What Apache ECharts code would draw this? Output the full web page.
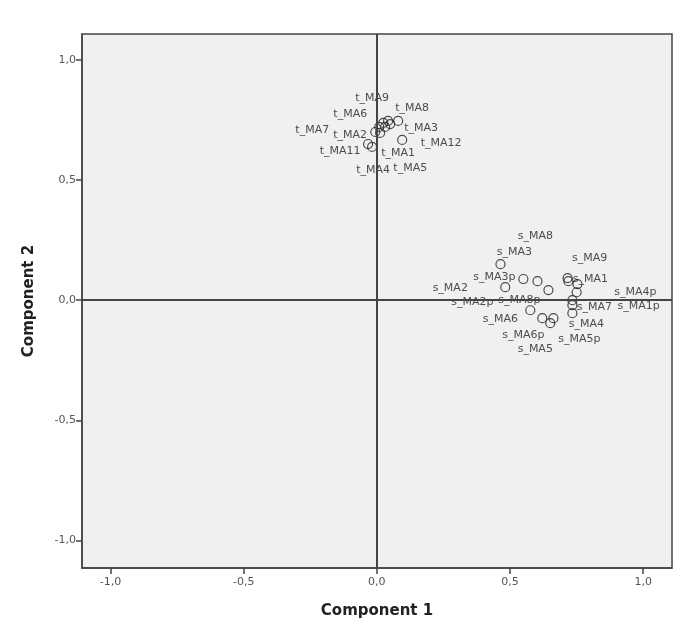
<!DOCTYPE html>
<html>
<head>
<meta charset="utf-8">
<script src="https://cdn.jsdelivr.net/npm/echarts@6/dist/echarts.min.js"></script>
<style>
  html, body { margin: 0; padding: 0; background: #fff; }
  #chart { width: 681px; height: 637px; }
</style>
</head>
<body>
<div id="chart"></div>
<script>
// component loadings
const names = [
  "t_MA8", "t_MA12", "t_MA11", "t_MA4", "t_MA5", "t_MA2", "t_MA7", "t_MA6", "t_MA9", "t_MA3", "t_MA1",
  "s_MA3", "s_MA8", "s_MA3p", "s_MA2", "s_MA8p", "s_MA9", "s_MA1", "s_MA4p", "s_MA1p", "s_MA7",
  "s_MA2p", "s_MA4", "s_MA6", "s_MA6p", "s_MA5p", "s_MA5",
];
const comp1 = [
  0.080, 0.095, -0.033, -0.018, -0.006, 0.012, 0.009, 0.024, 0.042, 0.050, 0.031,
  0.464, 0.603, 0.550, 0.482, 0.644, 0.716, 0.719, 0.753, 0.750, 0.734,
  0.734, 0.734, 0.576, 0.621, 0.663, 0.651,
];
const comp2 = [
  0.746, 0.667, 0.650, 0.638, 0.700, 0.696, 0.721, 0.738, 0.746, 0.733, 0.721,
  0.150, 0.079, 0.088, 0.054, 0.042, 0.092, 0.079, 0.067, 0.033, 0.000,
  -0.021, -0.054, -0.042, -0.075, -0.075, -0.096,
];
const tickValues = [-1, -0.5, 0, 0.5, 1];

// where each label sits relative to its point (px)
const labelShift = {
  t_MA8: [14, -13], t_MA12: [39, 3], t_MA11: [-28, 7], t_MA4: [1, 23], t_MA5: [35, 36],
  t_MA2: [-30, 2], t_MA7: [-67, 3], t_MA6: [-33, -9], t_MA9: [-16, -23], t_MA3: [31, 4], t_MA1: [13, 26],
  s_MA3: [14, -12], s_MA8: [-2, -45], s_MA3p: [-29, -2], s_MA2: [-55, 1], s_MA8p: [-29, 10],
  s_MA9: [22, -20], s_MA1: [22, -2], s_MA4p: [58, 8], s_MA1p: [62, 14], s_MA7: [22, 7],
  s_MA2p: [-100, -3], s_MA4: [14, 11], s_MA6: [-30, 9], s_MA6p: [-19, 17], s_MA5p: [26, 21], s_MA5: [-15, 26],
};

const FONT = "DejaVu Sans";
const fmt = v => v.toFixed(1).replace(".", ",");

const points = names.map((n, i) => ({ name: n, value: [comp1[i], comp2[i]] }));

function axis(name, min, max, gap, margin) {
  return {
    type: "value",
    min, max,
    name,
    nameLocation: "middle",
    nameGap: gap,
    nameTextStyle: { fontFamily: FONT, fontSize: 15, fontWeight: "bold", color: "#222" },
    splitLine: { show: false },
    axisLine: { onZero: false, lineStyle: { color: "#444", width: 1.5 } },
    axisTick: { customValues: tickValues, length: 6, lineStyle: { color: "#444", width: 1.5 } },
    axisLabel: {
      customValues: tickValues, formatter: fmt, margin,
      fontFamily: FONT, fontSize: 11, color: "#555",
    },
  };
}

const chart = echarts.init(document.getElementById("chart"));
chart.setOption({
  animation: false,
  grid: {
    left: 82, right: 9, top: 34, bottom: 69,
    show: true, backgroundColor: "#f0f0f0", borderColor: "#444", borderWidth: 1.5,
  },
  xAxis: axis("Component 1", -1.107, 1.108, 36, 9),
  yAxis: axis("Component 2", -1.115, 1.108, 45, 6),
  series: [{
    type: "scatter",
    data: points,
    symbol: "circle",
    symbolSize: 9,
    itemStyle: { color: "rgba(0,0,0,0)", borderColor: "#222", borderWidth: 1.2 },
    label: {
      show: true, position: "inside", formatter: "{b}",
      fontFamily: FONT, fontSize: 11, color: "#222",
    },
    labelLayout: p => {
      const s = labelShift[names[p.dataIndex]] || [0, 0];
      return { dx: s[0], dy: s[1], hideOverlap: false };
    },
    markLine: {
      silent: true, symbol: "none", label: { show: false },
      lineStyle: { color: "#444", width: 2, type: "solid" },
      data: [{ xAxis: 0 }, { yAxis: 0 }],
    },
  }],
});
</script>
</body>
</html>
